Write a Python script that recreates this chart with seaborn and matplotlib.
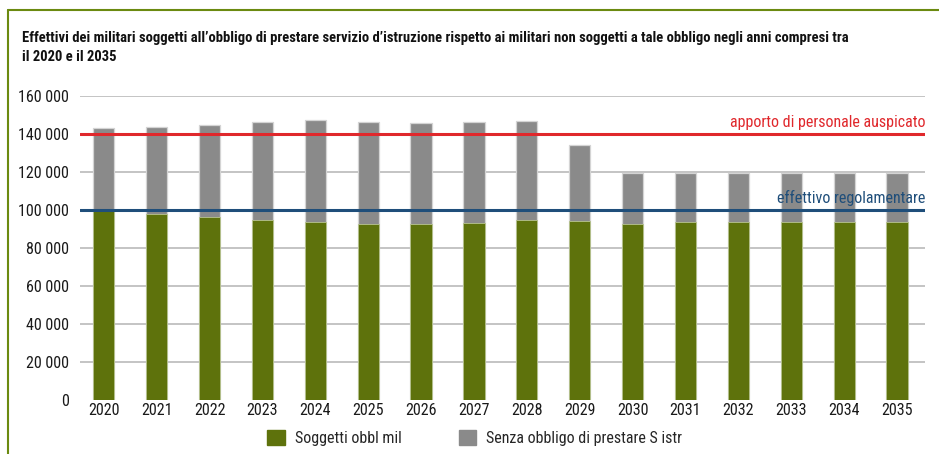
import matplotlib
matplotlib.use("Agg")
import matplotlib.pyplot as plt
import seaborn as sns
import pandas as pd
from matplotlib.patches import Rectangle
from matplotlib.lines import Line2D

years = [str(y) for y in range(2020, 2036)]
soggetti = [99600, 98000, 96200, 94900, 93500, 92800, 92800, 93000, 94900, 94400,
            92800, 93500, 93900, 93900, 93900, 93900]
totale = [143200, 143500, 144700, 146300, 147400, 146500, 145800, 146300, 146700, 134000,
          119300, 119600, 119700, 119700, 119700, 119700]
senza = [t - s for t, s in zip(totale, soggetti)]
y_ticks = [0, 20000, 40000, 60000, 80000, 100000, 120000, 140000, 160000]
tick_labels = ["0", "20 000", "40 000", "60 000", "80 000", "100 000", "120 000", "140 000", "160 000"]
auspicato = 140000
regolamentare = 100000
title = ("Effettivi dei militari soggetti all\u2019obbligo di prestare servizio d\u2019istruzione rispetto ai militari non soggetti a tale obbligo negli anni compresi tra\n"
         "il 2020 e il 2035")

sns.set_theme(style="white")
FONT = ["Roboto Condensed", "DejaVu Sans"]
plt.rcParams["font.family"] = FONT

GREEN = "#5e720c"
GRAY = "#8a8a8a"
RED = "#e0282c"
BLUE = "#1f4e7a"

df = pd.DataFrame({"anno": years, "soggetti": soggetti, "totale": totale, "senza": senza})

fig = plt.figure(figsize=(9.39, 4.54), dpi=100)
ax = fig.add_axes([80 / 939, 54 / 454, (925 - 80) / 939, (400 - 96) / 454])

for v in y_ticks[1:]:
    ax.axhline(v, color="#b4b4b4", lw=1.1, zorder=0)

sns.barplot(data=df, x="anno", y="totale", color=GRAY, width=0.4, ax=ax,
            edgecolor="#d4d4d4", linewidth=0.9, saturation=1, zorder=2)
sns.barplot(data=df, x="anno", y="soggetti", color=GREEN, width=0.4, ax=ax,
            edgecolor="#b8c490", linewidth=0.6, saturation=1, zorder=3)

ax.axhline(auspicato, color=RED, lw=2.2, zorder=4)
ax.axhline(regolamentare, color=BLUE, lw=2.2, zorder=4)

ax.set_ylim(0, 160000)
ax.set_xlim(-0.45, 15.53)
ax.set_yticks(y_ticks)
ax.set_yticklabels(tick_labels, fontsize=11.5, color="#1a1a1a")
ax.tick_params(axis="x", labelsize=11.5, colors="#1a1a1a", length=0, pad=2)
ax.tick_params(axis="y", length=0, pad=8)
ax.set_xlabel("")
ax.set_ylabel("")
for s in ax.spines.values():
    s.set_visible(False)

ax.text(1.0, auspicato + 2200, "apporto di personale auspicato", transform=ax.get_yaxis_transform(),
        ha="right", va="bottom", color=RED, fontsize=11.5)
ax.text(1.0, regolamentare + 2200, "effettivo regolamentare", transform=ax.get_yaxis_transform(),
        ha="right", va="bottom", color=BLUE, fontsize=11.5)

fig.text(22 / 939, 1 - 31 / 454, title, ha="left", va="top", fontsize=10.5,
         fontweight="bold", color="#111111", linespacing=1.45)

handles = [Rectangle((0, 0), 1, 1, color=GREEN), Rectangle((0, 0), 1, 1, color=GRAY)]
fig.legend(handles, ["Soggetti obbl mil", "Senza obbligo di prestare S istr"],
           loc="center left", bbox_to_anchor=(253 / 939, 1 - 438 / 454), ncol=2,
           frameon=False, fontsize=11.5, handlelength=1.1, handleheight=1.1,
           columnspacing=3.6, handletextpad=0.6)

# frame lines (top and left)
fig.add_artist(Line2D([8 / 939, 1], [1 - 10 / 454, 1 - 10 / 454], color="#6b8a10", lw=1.5,
                      transform=fig.transFigure))
fig.add_artist(Line2D([8 / 939, 8 / 939], [0, 1 - 10 / 454], color="#6b8a10", lw=1.5,
                      transform=fig.transFigure))

fig.savefig("out.png", dpi=100)
